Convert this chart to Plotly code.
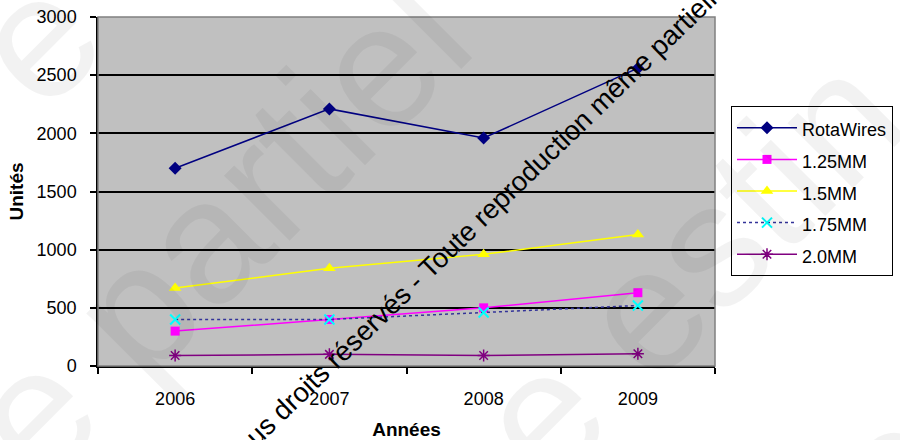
import plotly.graph_objects as go

# Sales volume per product line, 2006-2009
years = ["2006", "2007", "2008", "2009"]
series_names = ["RotaWires", "1.25MM", "1.5MM", "1.75MM", "2.0MM"]
rotawires = [1700, 2210, 1960, 2560]
mm_125 = [300, 400, 500, 630]
mm_150 = [670, 840, 960, 1130]
mm_175 = [400, 400, 460, 520]
mm_200 = [90, 100, 90, 105]
y_ticks = [0, 500, 1000, 1500, 2000, 2500, 3000]

FONT = "Liberation Sans, Arial, sans-serif"

# plot-area geometry in pixels (used to place free text in paper coords)
W, H = 900, 440
L, R, T, B = 98, 185, 17, 74
PW, PH = W - L - R, H - T - B


def px_to_paper(px, py):
    return (px - L) / PW, (H - B - py) / PH


styles = [
    dict(line=dict(color="#000080", width=1.5),
         marker=dict(symbol="diamond", size=10, color="#000080")),
    dict(line=dict(color="#ff00ff", width=1.5),
         marker=dict(symbol="square", size=9, color="#ff00ff")),
    dict(line=dict(color="#ffff00", width=1.5),
         marker=dict(symbol="triangle-up", size=11, color="#ffff00")),
    dict(line=dict(color="#333399", width=1.5, dash="dot"),
         marker=dict(symbol="x-thin-open", size=10, color="#00ffff",
                     line=dict(color="#00ffff", width=2))),
    dict(line=dict(color="#800080", width=1.5),
         marker=dict(symbol="asterisk-open", size=10, color="#800080",
                     line=dict(color="#800080", width=1.5))),
]

fig = go.Figure()
for name, values, st in zip(series_names,
                            [rotawires, mm_125, mm_150, mm_175, mm_200],
                            styles):
    fig.add_trace(go.Scatter(
        x=years, y=values, mode="lines+markers",
        name=f"<span style='font-size:18px'>{name}</span>",
        **st,
    ))

annotations = []

# large faint background lettering
for text, (cx, cy) in [("e partiel", (217, 227)), ("e estin", (688, 267)),
                       ("e", (35, 40)), ("c", (890, 470))]:
    xp, yp = px_to_paper(cx, cy)
    annotations.append(dict(
        text=text, x=xp, y=yp, xref="paper", yref="paper",
        xanchor="center", yanchor="middle", showarrow=False,
        textangle=-45,
        font=dict(family=FONT, size=175, color="rgba(0,0,0,0.05)"),
    ))

# diagonal copyright notice
xp, yp = px_to_paper(513, 186)
annotations.append(dict(
    text="Tous droits réservés - Toute reproduction même partielle interdite",
    x=xp, y=yp, xref="paper", yref="paper",
    xanchor="center", yanchor="middle", showarrow=False, textangle=-44,
    font=dict(family=FONT, size=27.5, color="#000000"),
))

fig.update_layout(
    width=W, height=H,
    margin=dict(l=L, r=R, t=T, b=B, pad=0, autoexpand=False),
    paper_bgcolor="white",
    plot_bgcolor="#c0c0c0",
    font=dict(family=FONT, color="black"),
    showlegend=True,
    legend=dict(
        x=(731 - L) / PW, xanchor="left",
        y=(H - B - 106) / PH, yanchor="top",
        bgcolor="white", bordercolor="black", borderwidth=1,
        font=dict(family=FONT, size=22, color="black"),
        itemwidth=60, tracegroupgap=0,
    ),
    xaxis=dict(
        type="category", range=[-0.5, 3.5], tickson="boundaries",
        ticks="outside", ticklen=6, tickcolor="black", tickwidth=1.5,
        showline=True, linecolor="black", linewidth=1.5,
        showgrid=False, zeroline=False, automargin=False,
        tickfont=dict(size=18, color="black"),
        ticklabelstandoff=16,
        title=dict(text="<b>Années</b>", font=dict(size=19), standoff=15),
    ),
    yaxis=dict(
        range=[0, 3000], tickvals=y_ticks,
        ticks="outside", ticklen=6, tickcolor="black", tickwidth=1.5,
        showline=True, linecolor="black", linewidth=1.5,
        showgrid=True, gridcolor="black", gridwidth=1.5, zeroline=False,
        automargin=False,
        tickfont=dict(size=18, color="black"),
        ticklabelstandoff=10,
        title=dict(text="<b>Unités</b>", font=dict(size=19), standoff=8),
    ),
    shapes=[dict(type="rect", xref="paper", yref="paper",
                 x0=0, x1=1, y0=0, y1=1,
                 line=dict(color="#808080", width=1.5), layer="above")],
    annotations=annotations,
)

fig.write_html("out.html")
